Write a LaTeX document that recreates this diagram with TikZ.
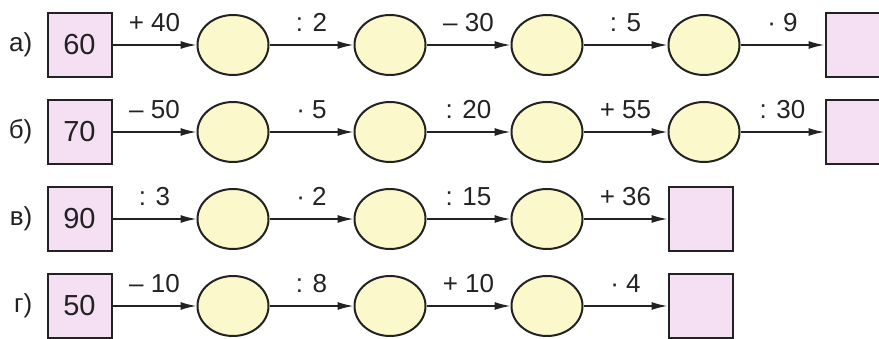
\documentclass[tikz,border=0pt]{standalone}
\usepackage{fontspec}
\setmainfont{Liberation Sans}
\usetikzlibrary{arrows.meta}
\usetikzlibrary{positioning}
\usetikzlibrary{shapes.geometric}
\definecolor{boxpink}{RGB}{244,224,242}
\definecolor{ovalyellow}{RGB}{251,249,203}
\definecolor{inkgray}{RGB}{34,34,34}

\begin{document}
\begin{tikzpicture}[x=1pt,y=-1pt,node distance=84pt,>={Latex[length=16pt,width=8pt]}]
\tikzstyle{num box}=[rectangle,draw=inkgray,fill=boxpink,line width=2pt,minimum size=64pt,inner sep=0,text=inkgray,font=\fontsize{29}{33}\selectfont]
\tikzstyle{oval}=[ellipse,draw=inkgray,fill=ovalyellow,line width=2pt,minimum width=71pt,minimum height=60pt,inner sep=0]
\tikzset{
  op/.style = {anchor=base,yshift=13pt,inner sep=0,text=inkgray,font=\fontsize{26}{30}\selectfont},
  row label/.style = {inner sep=0,text=inkgray,font=\fontsize{26}{30}\selectfont},
  link/.style = {draw=inkgray,line width=1.5pt}
}
\useasboundingbox (0,0) rectangle (879,339);

    % row a
    \node[num box]   (a0)   at (79.5,45)      {60};
    \node[oval]      (a1)   [right=of a0]     {};
    \node[oval]      (a2)   [right=of a1]     {};
    \node[oval]      (a3)   [right=of a2]     {};
    \node[oval]      (a4)   [right=of a3]     {};
    \node[num box]   (a5)   [right=of a4]     {};
    \node[row label] (la)   [left=14pt of a0] {а)};
    % row b
    \node[num box]   (b0)   at (79.5,132)     {70};
    \node[oval]      (b1)   [right=of b0]     {};
    \node[oval]      (b2)   [right=of b1]     {};
    \node[oval]      (b3)   [right=of b2]     {};
    \node[oval]      (b4)   [right=of b3]     {};
    \node[num box]   (b5)   [right=of b4]     {};
    \node[row label] (lb)   [left=14pt of b0] {б)};
    % row c
    \node[num box]   (c0)   at (79.5,219)     {90};
    \node[oval]      (c1)   [right=of c0]     {};
    \node[oval]      (c2)   [right=of c1]     {};
    \node[oval]      (c3)   [right=of c2]     {};
    \node[num box]   (c4)   [right=of c3]     {};
    \node[row label] (lc)   [left=14pt of c0] {в)};
    % row d
    \node[num box]   (d0)   at (79.5,306)     {50};
    \node[oval]      (d1)   [right=of d0]     {};
    \node[oval]      (d2)   [right=of d1]     {};
    \node[oval]      (d3)   [right=of d2]     {};
    \node[num box]   (d4)   [right=of d3]     {};
    \node[row label] (ld)   [left=14pt of d0] {г)};

    \path[->,every edge/.style=link]
         (a0) edge node[op] {+ 40} (a1)
         (a1) edge node[op] {: 2}  (a2)
         (a2) edge node[op] {– 30} (a3)
         (a3) edge node[op] {: 5}  (a4)
         (a4) edge node[op] {· 9}  (a5)
         %%%%%%%%%%%%%%%%%%%
         (b0) edge node[op] {– 50} (b1)
         (b1) edge node[op] {· 5}  (b2)
         (b2) edge node[op] {: 20} (b3)
         (b3) edge node[op] {+ 55} (b4)
         (b4) edge node[op] {: 30} (b5)
         %%%%%%%%%%%%%%%%%%%
         (c0) edge node[op] {: 3}  (c1)
         (c1) edge node[op] {· 2}  (c2)
         (c2) edge node[op] {: 15} (c3)
         (c3) edge node[op] {+ 36} (c4)
         %%%%%%%%%%%%%%%%%%%
         (d0) edge node[op] {– 10} (d1)
         (d1) edge node[op] {: 8}  (d2)
         (d2) edge node[op] {+ 10} (d3)
         (d3) edge node[op] {· 4}  (d4)
;
\end{tikzpicture}
\end{document}
